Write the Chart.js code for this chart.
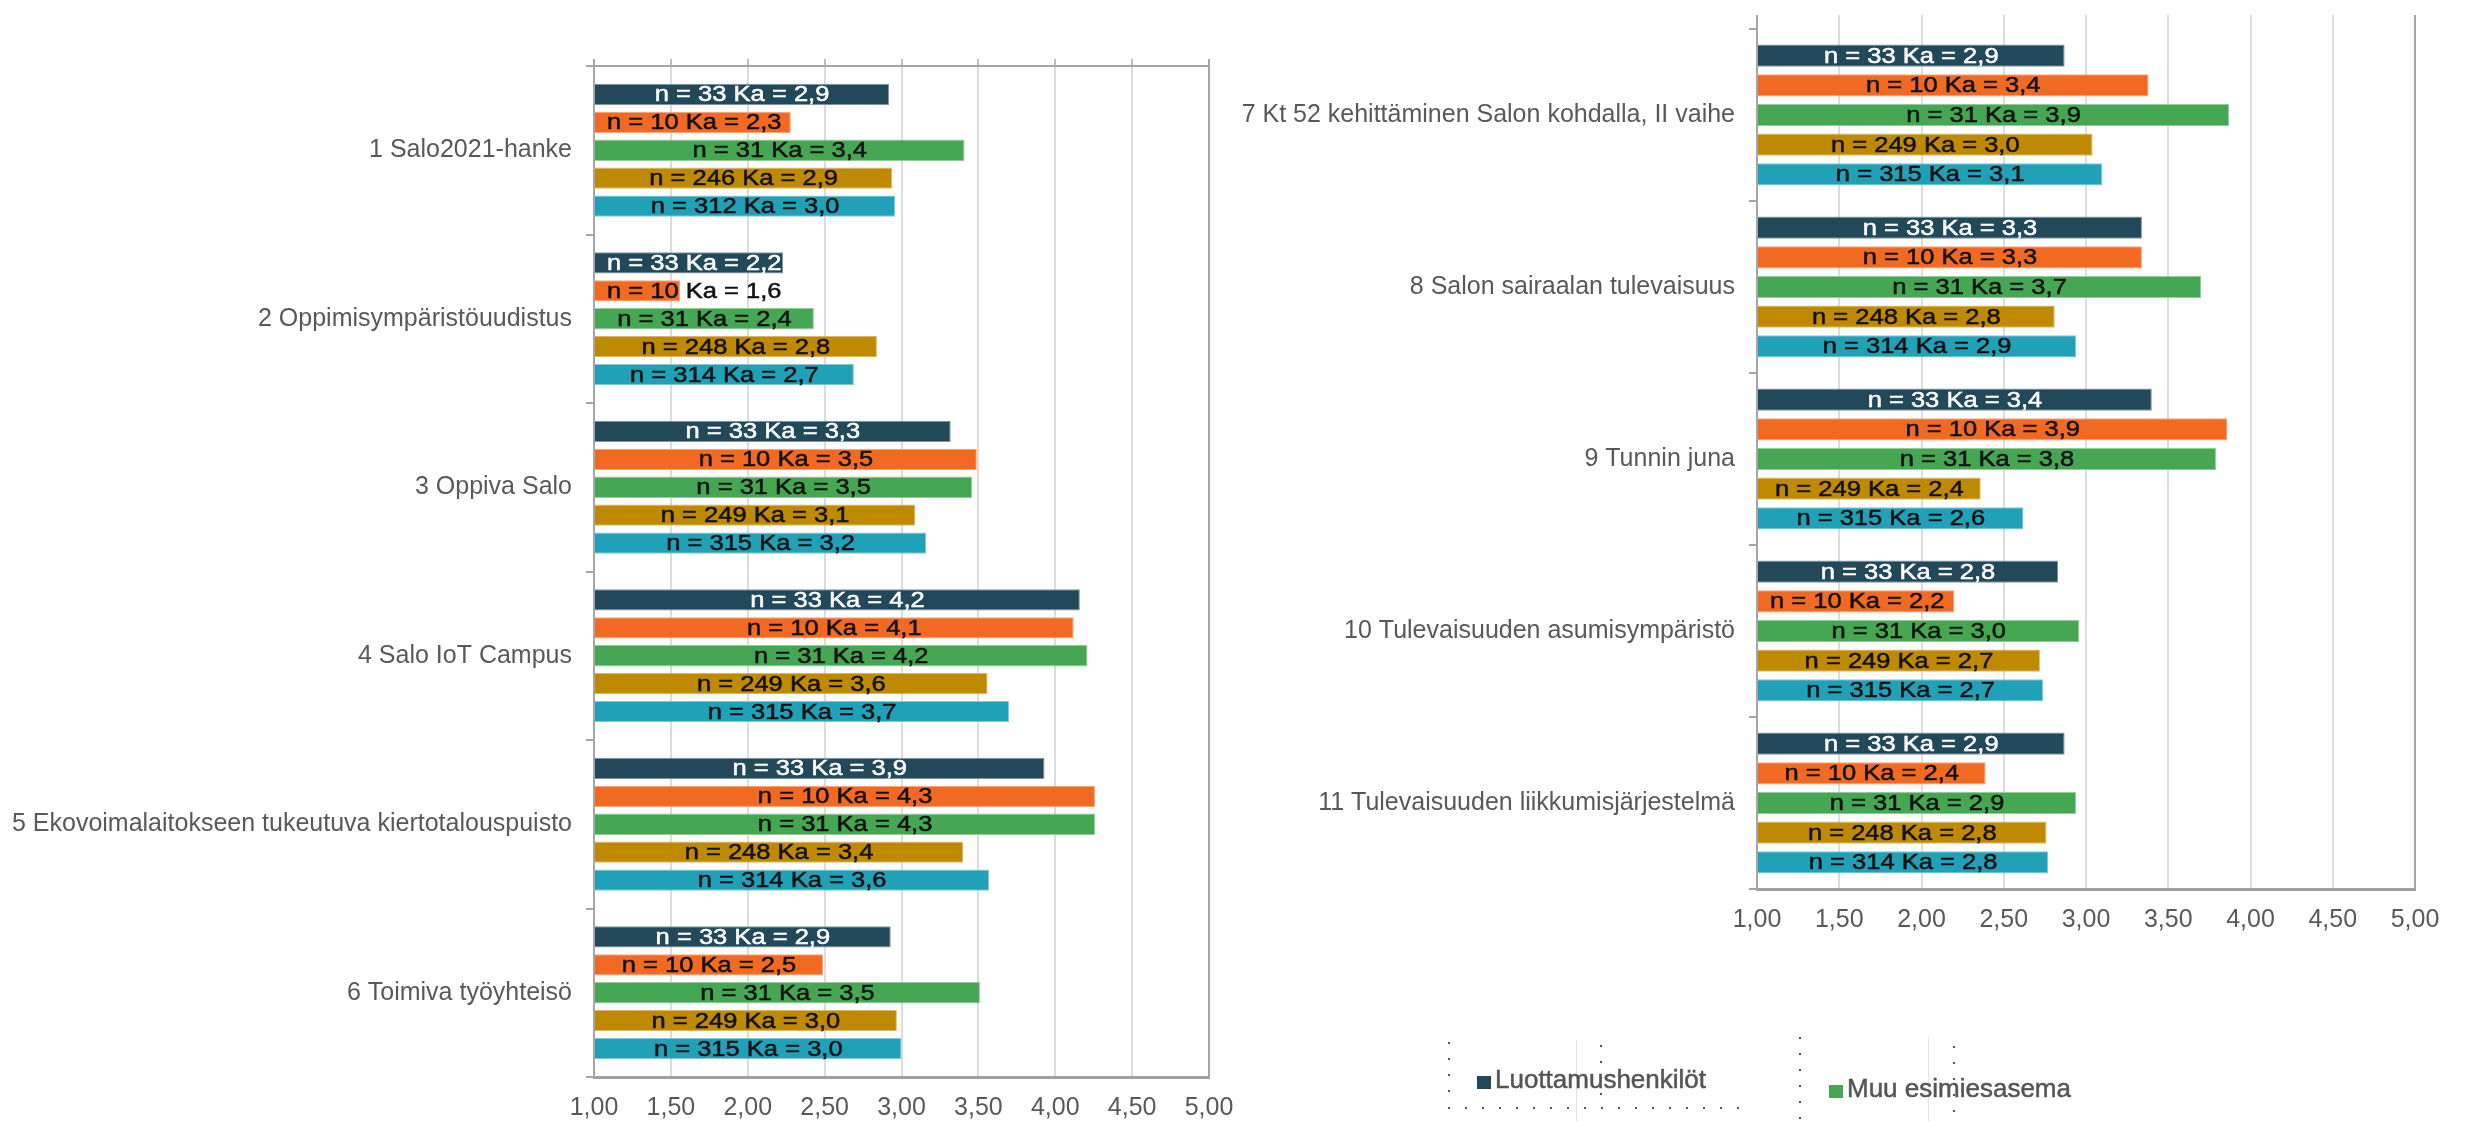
<!DOCTYPE html>
<html lang="fi">
<head>
<meta charset="utf-8">
<title>Hankkeiden arviot</title>
<script src="https://cdn.jsdelivr.net/npm/chart.js@4.4.1/dist/chart.umd.min.js"></script>
<style>
  html, body { margin: 0; padding: 0; background: #fff; overflow: hidden; }
  #wrap { position: relative; width: 2471px; height: 1121px; overflow: hidden; }
  #wrap canvas { position: absolute; left: 0; top: 0; }
  .legend-item { position: absolute; font: 26px "Liberation Sans", Arial, sans-serif; color: #555555; white-space: nowrap; line-height: 30px; -webkit-text-stroke: 0.5px #555555; }
  .legend-item i { display: inline-block; width: 14px; height: 13px; margin-right: 4px; vertical-align: -1px; }
  .dots-v { position: absolute; width: 2px; background: repeating-linear-gradient(to bottom, #555 0 2px, transparent 2px 16px); }
  .dots-h { position: absolute; height: 2px; background: repeating-linear-gradient(to right, #555 0 2px, transparent 2px 17px); }
  .rule-v { position: absolute; width: 1px; background: #e4e4e4; }
</style>
</head>
<body>
<div id="wrap">
  <canvas id="leftChart" width="2471" height="1121"></canvas>
  <canvas id="rightChart" width="2471" height="1121"></canvas>

  <!-- legend fragments under the right chart -->
  <div class="dots-v" style="left:1448px; top:1042px; height:56px;"></div>
  <div class="dots-v" style="left:1600px; top:1045px; height:52px;"></div>
  <div class="dots-h" style="left:1448px; top:1107px; width:295px;"></div>
  <div class="rule-v" style="left:1576px; top:1040px; height:81px;"></div>
  <div class="dots-v" style="left:1799px; top:1037px; height:84px;"></div>
  <div class="rule-v" style="left:1928px; top:1037px; height:84px;"></div>
  <div class="dots-v" style="left:1953px; top:1046px; height:75px;"></div>
  <div class="legend-item" id="legendA" style="left:1477px; top:1064px;"></div>
  <div class="legend-item" id="legendC" style="left:1829px; top:1073px;"></div>
</div>

<script>
// series (five respondent groups)
const seriesNames = ['Luottamushenkilöt', 'Ryhmä 2', 'Muu esimiesasema', 'Ryhmä 4', 'Ryhmä 5'];
const seriesColors = ['#22495A', '#F26A22', '#46A752', '#C08A00', '#21A1B7'];
const seriesEdges = ['#7d96a0', '#f7a57a', '#93cc98', '#dcb866', '#7fcad7'];
const labelColors = ['#ffffff', '#111111', '#111111', '#111111', '#111111'];

// x axis ticks
const tickValues = [1, 1.5, 2, 2.5, 3, 3.5, 4, 4.5, 5];

// left chart: projects 1-6
const leftCategories = [
    '1 Salo2021-hanke',
    '2 Oppimisympäristöuudistus',
    '3 Oppiva Salo',
    '4 Salo IoT Campus',
    '5 Ekovoimalaitokseen tukeutuva kiertotalouspuisto',
    '6 Toimiva työyhteisö'
];
const leftMeans = [
    [2.92, 2.23, 3.32, 4.16, 3.93, 2.93],
    [2.28, 1.56, 3.49, 4.12, 4.26, 2.49],
    [3.41, 2.43, 3.46, 4.21, 4.26, 3.51],
    [2.94, 2.84, 3.09, 3.56, 3.40, 2.97],
    [2.96, 2.69, 3.16, 3.70, 3.57, 3.00]
];
const leftCounts = [
    [33, 33, 33, 33, 33, 33],
    [10, 10, 10, 10, 10, 10],
    [31, 31, 31, 31, 31, 31],
    [246, 248, 249, 249, 248, 249],
    [312, 314, 315, 315, 314, 315]
];

// right chart: projects 7-11
const rightCategories = [
    '7 Kt 52 kehittäminen Salon kohdalla, II vaihe',
    '8 Salon sairaalan tulevaisuus',
    '9 Tunnin juna',
    '10 Tulevaisuuden asumisympäristö',
    '11 Tulevaisuuden liikkumisjärjestelmä'
];
const rightMeans = [
    [2.87, 3.34, 3.40, 2.83, 2.87],
    [3.38, 3.34, 3.86, 2.20, 2.39],
    [3.87, 3.70, 3.79, 2.96, 2.94],
    [3.04, 2.81, 2.36, 2.72, 2.76],
    [3.10, 2.94, 2.62, 2.74, 2.77]
];
const rightCounts = [
    [33, 33, 33, 33, 33],
    [10, 10, 10, 10, 10],
    [31, 31, 31, 31, 31],
    [249, 248, 249, 249, 248],
    [315, 314, 315, 315, 314]
];

const FONT = '"Liberation Sans", Arial, sans-serif';
const LABEL_STRETCH = 1.16;
const W = 2471, H = 1121;

function fmtMean(v) {
    return v.toFixed(1).replace('.', ',');
}

// "n = 33 Ka = 2,9" inside every bar, pushed right when the bar is too short
const barLabels = {
    id: 'barLabels',
    afterDatasetsDraw(chart) {
        const ctx = chart.ctx;
        ctx.save();
        ctx.font = '22px ' + FONT;
        ctx.textAlign = 'center';
        ctx.textBaseline = 'middle';
        ctx.lineWidth = 0.5;
        chart.data.datasets.forEach((ds, di) => {
            chart.getDatasetMeta(di).data.forEach((bar, i) => {
                const text = 'n = ' + ds.counts[i] + ' Ka = ' + fmtMean(ds.data[i]);
                const w = ctx.measureText(text).width * LABEL_STRETCH;
                const cx = Math.max((bar.x + bar.base) / 2, bar.base + 12 + w / 2);
                ctx.save();
                ctx.translate(cx, bar.y + 1);
                ctx.scale(LABEL_STRETCH, 1);
                ctx.fillStyle = labelColors[di];
                ctx.strokeStyle = labelColors[di];
                ctx.fillText(text, 0, 0);
                ctx.strokeText(text, 0, 0);
                ctx.restore();
            });
        });
        ctx.restore();
    }
};

function edgeColor(ctx, light) {
    const v = ctx.tick ? ctx.tick.value : null;
    if (v === 1 || v === 5) return '#a6a6a6';
    return light;
}

function makeChart(id, categories, means, counts, box) {
    const datasets = means.map((vals, s) => ({
        label: seriesNames[s],
        data: vals,
        counts: counts[s],
        base: 1,
        backgroundColor: seriesColors[s],
        borderColor: seriesEdges[s],
        borderWidth: 1,
        categoryPercentage: box.catPct,
        barPercentage: box.barPct
    }));

    return new Chart(document.getElementById(id), {
        type: 'bar',
        data: { labels: categories, datasets: datasets },
        plugins: [barLabels],
        options: {
            indexAxis: 'y',
            responsive: false,
            animation: false,
            font: { family: FONT },
            layout: { padding: { left: 0, top: 0, right: W - box.right, bottom: 0 } },
            plugins: {
                legend: { display: false },
                tooltip: { enabled: false }
            },
            scales: {
                x: {
                    type: 'linear',
                    position: 'bottom',
                    min: 1,
                    max: 5,
                    afterBuildTicks: s => { s.ticks = tickValues.map(v => ({ value: v })); },
                    ticks: {
                        color: '#595959',
                        padding: 16,
                        font: { family: FONT, size: 25 },
                        callback: v => Number(v).toFixed(2).replace('.', ',')
                    },
                    grid: {
                        color: c => edgeColor(c, '#dcdcdc'),
                        lineWidth: 2,
                        drawTicks: false
                    },
                    border: { color: '#a0a0a0', width: 3 },
                    afterFit: s => { s.height = H - box.bottom; }
                },
                x2: {
                    type: 'linear',
                    position: 'top',
                    min: 1,
                    max: 5,
                    afterBuildTicks: s => { s.ticks = tickValues.map(v => ({ value: v })); },
                    ticks: { display: false },
                    grid: {
                        drawOnChartArea: false,
                        drawTicks: true,
                        tickLength: box.topTick,
                        color: c => edgeColor(c, box.topTickColor),
                        lineWidth: 2
                    },
                    border: { display: box.topBorder, color: '#a6a6a6', width: 2 },
                    afterFit: s => { s.height = box.top; }
                },
                y: {
                    type: 'category',
                    position: 'left',
                    ticks: {
                        color: '#595959',
                        padding: 14,
                        font: { family: FONT, size: 25 }
                    },
                    grid: {
                        drawOnChartArea: false,
                        tickLength: 8,
                        color: '#a6a6a6',
                        lineWidth: 2
                    },
                    border: { color: '#a6a6a6', width: 2 },
                    afterFit: s => { s.width = box.left; }
                }
            }
        }
    });
}

makeChart('leftChart', leftCategories, leftMeans, leftCounts, {
    left: 594, right: 1209, top: 66, bottom: 1077,
    catPct: 0.83, barPct: 0.76,
    topTick: 7, topTickColor: '#bfbfbf', topBorder: true
});

makeChart('rightChart', rightCategories, rightMeans, rightCounts, {
    left: 1757, right: 2415, top: 19, bottom: 889,
    catPct: 0.862, barPct: 0.75,
    topTick: 14, topTickColor: '#dcdcdc', topBorder: false
});

// the two legend entries that fit under the right chart
function legendEntry(elId, s) {
    const el = document.getElementById(elId);
    const sw = document.createElement('i');
    sw.style.background = seriesColors[s];
    el.appendChild(sw);
    el.appendChild(document.createTextNode(seriesNames[s]));
}
legendEntry('legendA', 0);
legendEntry('legendC', 2);
</script>
</body>
</html>
